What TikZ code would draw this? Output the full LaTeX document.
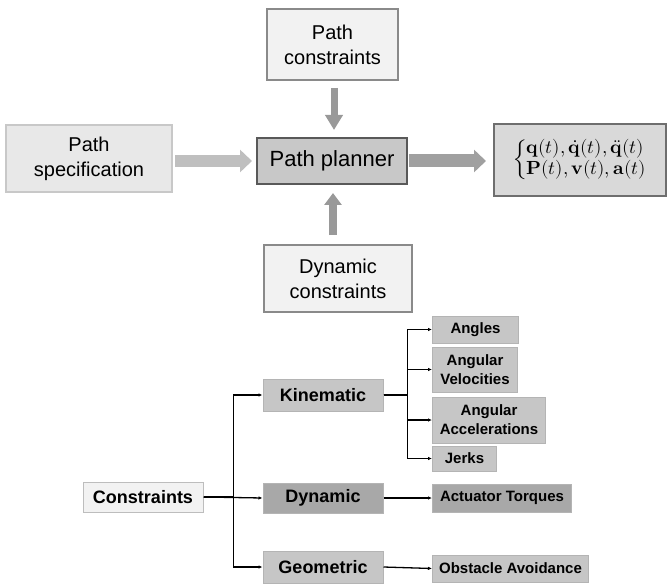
\documentclass[tikz,border=0pt]{standalone}
\usepackage{unicode-math}
\setmainfont{Liberation Sans}
\setmathfont{Latin Modern Math}
\usetikzlibrary{arrows.meta,calc}
\definecolor{pcfill}{HTML}{F2F2F2}
\definecolor{pcdraw}{HTML}{8A8A8A}
\definecolor{psfill}{HTML}{E8E8E8}
\definecolor{psdraw}{HTML}{C8C8C8}
\definecolor{ppfill}{HTML}{C8C8C8}
\definecolor{ppdraw}{HTML}{595959}
\definecolor{outfill}{HTML}{D9D9D9}
\definecolor{outdraw}{HTML}{6E6E6E}
\definecolor{arrdark}{HTML}{999999}
\definecolor{arrlight}{HTML}{BFBFBF}
\definecolor{arrmid}{HTML}{A0A0A0}
\definecolor{leaffill}{HTML}{C6C6C6}
\definecolor{leafdark}{HTML}{A8A8A8}
\definecolor{leafdraw}{HTML}{B4B4B4}
\definecolor{consfill}{HTML}{F2F2F2}
\definecolor{consdraw}{HTML}{BDBDBD}
\tikzset{
  topbox/.style={draw, line width=2pt, rectangle, align=center, inner sep=0pt,
    font=\fontsize{20}{25}\selectfont},
  treebox/.style={draw=leafdraw, line width=1pt, fill=leaffill, rectangle, align=center, inner sep=0pt,
    font=\fontsize{18}{21}\selectfont\bfseries},
  leafbox/.style={draw=leafdraw, line width=1pt, fill=leaffill, rectangle, align=center, inner sep=0pt,
    anchor=west, font=\fontsize{15}{19}\selectfont\bfseries},
  treeline/.style={line width=1.3pt, black, -{Latex[length=4pt,width=3.5pt]}},
}
\begin{document}
\begin{tikzpicture}[x=1pt,y=-1pt]
\useasboundingbox (0,0) rectangle (668,585);
% top diagram
\node[topbox, draw=pcdraw, fill=pcfill, minimum width=131pt, minimum height=71pt] (pc) at (332.5,44.5) {Path\\constraints};
\node[topbox, draw=psdraw, fill=psfill, minimum width=166pt, minimum height=67pt] (ps) at (89,158.5) {Path\\specification};
\node[topbox, draw=ppdraw, fill=ppfill, minimum width=150pt, minimum height=46pt,
  font=\fontsize{22}{26}\selectfont] (pp) at (332,161) {Path planner};
\node[topbox, draw=outdraw, fill=outfill, minimum width=172pt, minimum height=72pt] (out) at (580,160)
  {\fontsize{19}{21}\selectfont$\left\{\begin{array}{@{}l@{}}\symbf{q}(t),\dot{\symbf{q}}(t),\ddot{\symbf{q}}(t)\\ \symbf{P}(t),\symbf{v}(t),\symbf{a}(t)\end{array}\right.$};
\node[topbox, draw=pcdraw, fill=pcfill, minimum width=148pt, minimum height=67pt] (dc) at (338,278.5) {Dynamic\\constraints};

\coordinate (pptop) at (334,137);
\coordinate (ppbot) at (333,185);
\draw[arrdark, line width=7pt, -{Triangle[length=15pt,width=17pt]}, shorten <=7pt, shorten >=7pt]
  (pptop |- pc.south) -- (pptop);
\draw[arrlight, line width=12pt, -{Triangle[length=12pt,width=22pt]}, shorten <=2pt, shorten >=4pt]
  (pp.west -| ps.east) -- (pp.west);
\draw[arrmid, line width=13pt, -{Triangle[length=12pt,width=22pt]}, shorten <=1pt, shorten >=7pt]
  (pp.east) -- (pp.east -| out.west);
\draw[arrdark, line width=8pt, -{Triangle[length=12pt,width=17pt]}, shorten <=9pt, shorten >=8pt]
  (ppbot |- dc.north) -- (ppbot);

% tree
\node[treebox, draw=consdraw, fill=consfill, minimum width=120pt, minimum height=30pt] (cons) at (143,497) {Constraints};
\node[treebox, minimum width=120pt, minimum height=32pt] (kin) at (323,395) {Kinematic};
\node[treebox, fill=leafdark, minimum width=120pt, minimum height=30pt] (dyn) at (323,498) {Dynamic};
\node[treebox, minimum width=120pt, minimum height=32pt] (geo) at (323,567) {Geometric};

\node[leafbox, minimum width=86pt, minimum height=27pt] (ang) at (432,329.5) {Angles};
\node[leafbox, minimum width=85pt, minimum height=45pt] (angv) at (432,369.5) {Angular\\Velocities};
\node[leafbox, minimum width=113pt, minimum height=46pt] (anga) at (432,420) {Angular\\Accelerations};
\node[leafbox, minimum width=64pt, minimum height=25pt] (jerk) at (432,458.5) {Jerks};
\node[leafbox, fill=leafdark, minimum width=139pt, minimum height=28pt] (torq) at (432,498) {Actuator Torques};
\node[leafbox, minimum width=156pt, minimum height=27pt] (obst) at (432,568.5) {Obstacle Avoidance};

\draw[treeline] (cons.east) -- (dyn.west);
\draw[treeline] (cons.east) -- ++(30,0) |- (kin.west);
\draw[treeline] (cons.east) -- ++(30,0) |- (geo.west);

\draw[treeline] (kin.east) -- ++(24,0) |- (ang.west);
\draw[treeline] (kin.east) -- ++(24,0) |- (angv.west);
\draw[treeline] (kin.east) -- ++(24,0) |- (anga.west);
\draw[treeline] (kin.east) -- ++(24,0) |- (jerk.west);
\draw[treeline] (dyn.east) -- (torq.west);
\draw[treeline] (geo.east) -- (obst.west);
\end{tikzpicture}
\end{document}
